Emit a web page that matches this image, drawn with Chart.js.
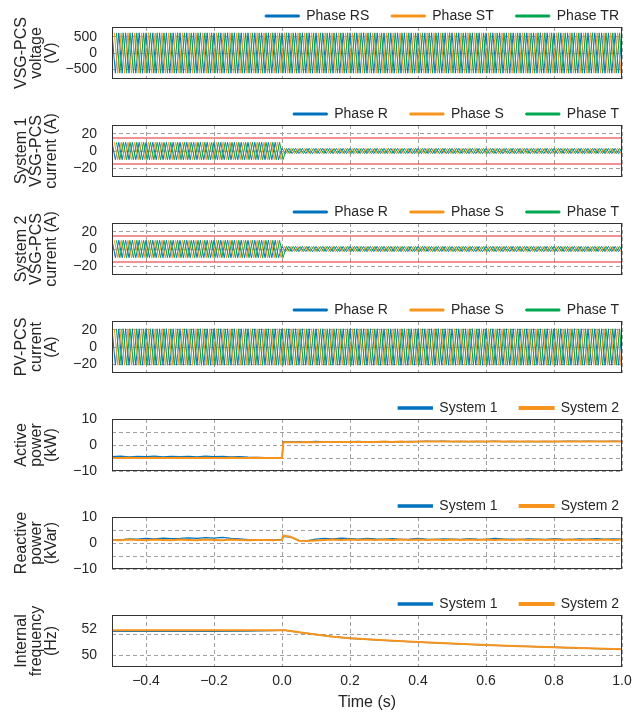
<!DOCTYPE html>
<html><head><meta charset="utf-8">
<script src="https://cdn.jsdelivr.net/npm/chart.js@4.4.1/dist/chart.umd.min.js"></script>
<style>
html,body{margin:0;padding:0;background:#fff;overflow:hidden;width:641px;height:713px;position:relative;}
canvas{position:absolute;left:0;}
</style></head><body>
<script>
// ---------------- DATA ----------------
const xTicks = [-0.4,-0.2,0,0.2,0.4,0.6,0.8,1.0];
const voltTicks = [-500,0,500];
const curTicks = [-20,0,20];
const powTicks = [-10,-5,0,5,10];
const powLabelled = [-10,0,10];
const freqTicks = [50,51.6,52];
const freqLabelled = [50,52];

const phaseLineLabels = ['Phase RS','Phase ST','Phase TR'];
const phaseLabels = ['Phase R','Phase S','Phase T'];
const systemLabels = ['System 1','System 2'];

// peak instants (s) of each phase waveform (alternating + / - peaks)
const tR = [
-0.50,-0.49,-0.48,-0.47,-0.46,-0.45,-0.44,-0.43,-0.42,-0.41,
-0.40,-0.39,-0.38,-0.37,-0.36,-0.35,-0.34,-0.33,-0.32,-0.31,
-0.30,-0.29,-0.28,-0.27,-0.26,-0.25,-0.24,-0.23,-0.22,-0.21,
-0.20,-0.19,-0.18,-0.17,-0.16,-0.15,-0.14,-0.13,-0.12,-0.11,
-0.10,-0.09,-0.08,-0.07,-0.06,-0.05,-0.04,-0.03,-0.02,-0.01,
0.00,0.01,0.02,0.03,0.04,0.05,0.06,0.07,0.08,0.09,
0.10,0.11,0.12,0.13,0.14,0.15,0.16,0.17,0.18,0.19,
0.20,0.21,0.22,0.23,0.24,0.25,0.26,0.27,0.28,0.29,
0.30,0.31,0.32,0.33,0.34,0.35,0.36,0.37,0.38,0.39,
0.40,0.41,0.42,0.43,0.44,0.45,0.46,0.47,0.48,0.49,
0.50,0.51,0.52,0.53,0.54,0.55,0.56,0.57,0.58,0.59,
0.60,0.61,0.62,0.63,0.64,0.65,0.66,0.67,0.68,0.69,
0.70,0.71,0.72,0.73,0.74,0.75,0.76,0.77,0.78,0.79,
0.80,0.81,0.82,0.83,0.84,0.85,0.86,0.87,0.88,0.89,
0.90,0.91,0.92,0.93,0.94,0.95,0.96,0.97,0.98,0.99,
1.00];
const tS = [
-0.493,-0.483,-0.473,-0.463,-0.453,-0.443,-0.433,-0.423,-0.413,-0.403,
-0.393,-0.383,-0.373,-0.363,-0.353,-0.343,-0.333,-0.323,-0.313,-0.303,
-0.293,-0.283,-0.273,-0.263,-0.253,-0.243,-0.233,-0.223,-0.213,-0.203,
-0.193,-0.183,-0.173,-0.163,-0.153,-0.143,-0.133,-0.123,-0.113,-0.103,
-0.093,-0.083,-0.073,-0.063,-0.053,-0.043,-0.033,-0.023,-0.013,-0.003,
0.007,0.017,0.027,0.037,0.047,0.057,0.067,0.077,0.087,0.097,
0.107,0.117,0.127,0.137,0.147,0.157,0.167,0.177,0.187,0.197,
0.207,0.217,0.227,0.237,0.247,0.257,0.267,0.277,0.287,0.297,
0.307,0.317,0.327,0.337,0.347,0.357,0.367,0.377,0.387,0.397,
0.407,0.417,0.427,0.437,0.447,0.457,0.467,0.477,0.487,0.497,
0.507,0.517,0.527,0.537,0.547,0.557,0.567,0.577,0.587,0.597,
0.607,0.617,0.627,0.637,0.647,0.657,0.667,0.677,0.687,0.697,
0.707,0.717,0.727,0.737,0.747,0.757,0.767,0.777,0.787,0.797,
0.807,0.817,0.827,0.837,0.847,0.857,0.867,0.877,0.887,0.897,
0.907,0.917,0.927,0.937,0.947,0.957,0.967,0.977,0.987,0.997,
1.007];
const tT = [
-0.487,-0.477,-0.467,-0.457,-0.447,-0.437,-0.427,-0.417,-0.407,-0.397,
-0.387,-0.377,-0.367,-0.357,-0.347,-0.337,-0.327,-0.317,-0.307,-0.297,
-0.287,-0.277,-0.267,-0.257,-0.247,-0.237,-0.227,-0.217,-0.207,-0.197,
-0.187,-0.177,-0.167,-0.157,-0.147,-0.137,-0.127,-0.117,-0.107,-0.097,
-0.087,-0.077,-0.067,-0.057,-0.047,-0.037,-0.027,-0.017,-0.007,0.003,
0.013,0.023,0.033,0.043,0.053,0.063,0.073,0.083,0.093,0.103,
0.113,0.123,0.133,0.143,0.153,0.163,0.173,0.183,0.193,0.203,
0.213,0.223,0.233,0.243,0.253,0.263,0.273,0.283,0.293,0.303,
0.313,0.323,0.333,0.343,0.353,0.363,0.373,0.383,0.393,0.403,
0.413,0.423,0.433,0.443,0.453,0.463,0.473,0.483,0.493,0.503,
0.513,0.523,0.533,0.543,0.553,0.563,0.573,0.583,0.593,0.603,
0.613,0.623,0.633,0.643,0.653,0.663,0.673,0.683,0.693,0.703,
0.713,0.723,0.733,0.743,0.753,0.763,0.773,0.783,0.793,0.803,
0.813,0.823,0.833,0.843,0.853,0.863,0.873,0.883,0.893,0.903,
0.913,0.923,0.933,0.943,0.953,0.963,0.973,0.983,0.993,1.003,
1.013];

// peak values (V) of the VSG-PCS line voltages
const voltPk = [
620,-620,620,-620,620,-620,620,-620,620,-620,
620,-620,620,-620,620,-620,620,-620,620,-620,
620,-620,620,-620,620,-620,620,-620,620,-620,
620,-620,620,-620,620,-620,620,-620,620,-620,
620,-620,620,-620,620,-620,620,-620,620,-620,
620,-620,620,-620,620,-620,620,-620,620,-620,
620,-620,620,-620,620,-620,620,-620,620,-620,
620,-620,620,-620,620,-620,620,-620,620,-620,
620,-620,620,-620,620,-620,620,-620,620,-620,
620,-620,620,-620,620,-620,620,-620,620,-620,
620,-620,620,-620,620,-620,620,-620,620,-620,
620,-620,620,-620,620,-620,620,-620,620,-620,
620,-620,620,-620,620,-620,620,-620,620,-620,
620,-620,620,-620,620,-620,620,-620,620,-620,
620,-620,620,-620,620,-620,620,-620,620,-620,
620];
// peak values (A) of System 1 VSG-PCS currents
const sys1CurPk = [
10,-10,10,-10,10,-10,10,-10,10,-10,
10,-10,10,-10,10,-10,10,-10,10,-10,
10,-10,10,-10,10,-10,10,-10,10,-10,
10,-10,10,-10,10,-10,10,-10,10,-10,
10,-10,10,-10,10,-10,10,-10,10,-10,
3,-3,3,-3,3,-3,3,-3,3,-3,
3,-3,3,-3,3,-3,3,-3,3,-3,
3,-3,3,-3,3,-3,3,-3,3,-3,
3,-3,3,-3,3,-3,3,-3,3,-3,
3,-3,3,-3,3,-3,3,-3,3,-3,
3,-3,3,-3,3,-3,3,-3,3,-3,
3,-3,3,-3,3,-3,3,-3,3,-3,
3,-3,3,-3,3,-3,3,-3,3,-3,
3,-3,3,-3,3,-3,3,-3,3,-3,
3,-3,3,-3,3,-3,3,-3,3,-3,
3];
// peak values (A) of System 2 VSG-PCS currents
const sys2CurPk = [
10,-10,10,-10,10,-10,10,-10,10,-10,
10,-10,10,-10,10,-10,10,-10,10,-10,
10,-10,10,-10,10,-10,10,-10,10,-10,
10,-10,10,-10,10,-10,10,-10,10,-10,
10,-10,10,-10,10,-10,10,-10,10,-10,
3,-3,3,-3,3,-3,3,-3,3,-3,
3,-3,3,-3,3,-3,3,-3,3,-3,
3,-3,3,-3,3,-3,3,-3,3,-3,
3,-3,3,-3,3,-3,3,-3,3,-3,
3,-3,3,-3,3,-3,3,-3,3,-3,
3,-3,3,-3,3,-3,3,-3,3,-3,
3,-3,3,-3,3,-3,3,-3,3,-3,
3,-3,3,-3,3,-3,3,-3,3,-3,
3,-3,3,-3,3,-3,3,-3,3,-3,
3,-3,3,-3,3,-3,3,-3,3,-3,
3];
// peak values (A) of PV-PCS currents
const pvCurPk = [
21,-21,21,-21,21,-21,21,-21,21,-21,
21,-21,21,-21,21,-21,21,-21,21,-21,
21,-21,21,-21,21,-21,21,-21,21,-21,
21,-21,21,-21,21,-21,21,-21,21,-21,
21,-21,21,-21,21,-21,21,-21,21,-21,
21,-21,21,-21,21,-21,21,-21,21,-21,
21,-21,21,-21,21,-21,21,-21,21,-21,
21,-21,21,-21,21,-21,21,-21,21,-21,
21,-21,21,-21,21,-21,21,-21,21,-21,
21,-21,21,-21,21,-21,21,-21,21,-21,
21,-21,21,-21,21,-21,21,-21,21,-21,
21,-21,21,-21,21,-21,21,-21,21,-21,
21,-21,21,-21,21,-21,21,-21,21,-21,
21,-21,21,-21,21,-21,21,-21,21,-21,
21,-21,21,-21,21,-21,21,-21,21,-21,
21];

// current limit lines (A)
const limitT = [-0.5, 1.0];
const limitHi = [15, 15];
const limitLo = [-15, -15];

// power samples
const pT = [-0.5,-0.475,-0.45,-0.425,-0.4,-0.375,-0.35,-0.325,-0.3,-0.275,-0.25,-0.225,-0.2,-0.175,-0.15,-0.125,-0.1,-0.075,-0.05,-0.025,0,
0.004,
0.025,0.05,0.075,0.1,0.125,0.15,0.175,0.2,0.225,0.25,0.275,0.3,0.325,0.35,0.375,0.4,0.425,0.45,0.475,0.5,
0.525,0.55,0.575,0.6,0.625,0.65,0.675,0.7,0.725,0.75,0.775,0.8,0.825,0.85,0.875,0.9,0.925,0.95,0.975,1.0];
const activeSys1 = [-4.5,-4.3,-4.6,-4.4,-4.5,-4.3,-4.6,-4.4,-4.5,-4.4,-4.6,-4.3,-4.5,-4.4,-4.6,-4.5,-4.7,-4.8,-4.9,-4.9,-4.9,
1.3,
1.2,1.3,1.2,1.4,1.2,1.3,1.2,1.3,1.4,1.2,1.3,1.2,1.3,1.2,1.4,1.3,1.5,1.4,1.5,1.3,
1.4,1.3,1.4,1.3,1.5,1.3,1.4,1.3,1.4,1.3,1.4,1.3,1.4,1.5,1.4,1.5,1.4,1.4,1.5,1.4];
const activeSys2 = [-5.0,-5.0,-4.9,-5.0,-5.0,-4.9,-5.0,-5.0,-4.9,-5.0,-5.0,-4.9,-5.0,-5.0,-4.9,-5.0,-5.0,-4.9,-5.0,-5.0,-5.0,
1.1,
1.1,1.1,1.2,1.1,1.2,1.2,1.2,1.2,1.2,1.2,1.2,1.3,1.2,1.3,1.2,1.3,1.3,1.3,1.3,1.3,
1.3,1.3,1.3,1.3,1.3,1.3,1.3,1.3,1.3,1.3,1.3,1.3,1.3,1.3,1.3,1.3,1.3,1.3,1.3,1.3];
const reactiveSys1 = [1.3,1.2,1.6,1.5,1.8,1.6,1.9,1.7,1.8,2.0,1.8,2.1,1.9,2.2,1.8,1.6,1.3,1.2,1.3,1.2,1.4,
2.6,
2.3,1.0,0.9,1.5,1.8,1.6,1.9,1.7,1.5,1.8,1.6,1.5,1.7,1.4,1.5,1.8,1.5,1.4,1.6,1.5,
1.4,1.7,1.5,1.4,1.8,1.6,1.5,1.4,1.6,1.5,1.4,1.7,1.5,1.4,1.6,1.5,1.7,1.5,1.6,1.5];
const reactiveSys2 = [1.2,1.1,1.3,1.2,1.1,1.3,1.2,1.1,1.3,1.2,1.1,1.3,1.2,1.1,1.3,1.2,1.1,1.2,1.2,1.1,1.2,
2.8,
2.4,0.9,0.8,1.0,1.2,1.3,1.2,1.3,1.2,1.3,1.2,1.3,1.2,1.3,1.2,1.3,1.2,1.3,1.2,1.3,
1.2,1.3,1.2,1.3,1.2,1.3,1.2,1.3,1.2,1.3,1.2,1.3,1.2,1.3,1.2,1.3,1.2,1.3,1.2,1.3];

// internal frequency samples
const fT = [-0.5,-0.4,-0.3,-0.2,-0.1,0,0.01,0.05,0.1,0.15,0.2,0.3,0.4,0.5,0.6,0.7,0.8,0.9,1.0];
const freqSys1 = [51.85,51.85,51.85,51.85,51.86,51.92,51.92,51.77,51.6,51.43,51.31,51.15,51.02,50.9,50.79,50.7,50.62,50.54,50.46];
const freqSys2 = [51.92,51.92,51.92,51.92,51.92,51.92,51.92,51.77,51.6,51.43,51.31,51.15,51.02,50.9,50.79,50.7,50.62,50.54,50.46];

// ---------------- STYLE ----------------
const FONT = '"Liberation Sans",Arial,sans-serif';
const TXT = '#262626', GRID = '#a0a0a0';
const COL = {blue:'#0072BD', orange:'#F7941D', green:'#00A651', red:'#E8262B'};
Chart.defaults.font.family = FONT;

const frame = {
  id: 'frame',
  afterDatasetsDraw(chart) {
    const a = chart.chartArea, c = chart.ctx;
    c.save();
    c.strokeStyle = '#333'; c.lineWidth = 1;
    c.strokeRect(a.left + 0.5, a.top + 0.5, a.right - a.left - 1, a.bottom - a.top - 1);
    c.restore();
  }
};

const minus = s => s.replace('-', '\u2212');
const pts = (t, y) => t.map((v, i) => ({x: v, y: y[i]}));
const noPad = s => { s.paddingTop = 0; s.paddingBottom = 0; s.paddingLeft = 0; s.paddingRight = 0; };

function xScale(show) {
  return {
    type: 'linear', min: -0.5, max: 1.0,
    afterBuildTicks: s => { s.ticks = xTicks.map(v => ({value: v})); },
    afterFit: s => { s.height = show ? 46 : 0; noPad(s); },
    grid: {color: GRID, lineWidth: 1, drawTicks: false},
    border: {display: false, dash: [4, 3]},
    ticks: {display: show, padding: 6, color: TXT, font: {size: 14}, maxRotation: 0, autoSkip: false,
      callback: v => minus(Number(v).toFixed(1))},
    title: {display: show, text: 'Time (s)', color: TXT, font: {size: 16}, padding: {top: 0, bottom: 1}}
  };
}
function yScale(min, max, ticks, labelled, hidden, title) {
  return {
    type: 'linear', position: 'left', min, max,
    afterBuildTicks: s => { s.ticks = ticks.map(v => ({value: v})); },
    afterFit: s => { s.width = 112; noPad(s); },
    grid: {drawTicks: false, color: ctx => (ctx.tick && hidden.includes(ctx.tick.value)) ? 'rgba(0,0,0,0)' : GRID},
    border: {display: false, dash: [4, 3]},
    ticks: {padding: 15, color: TXT, font: {size: 14}, autoSkip: false,
      callback: v => labelled.includes(v) ? minus(String(v)) : ''},
    title: {display: true, text: title, color: TXT, font: {size: 16, lineHeight: 0.95}, padding: {top: 14, bottom: 0}}
  };
}
const yRight = {
  position: 'right', display: true, min: 0, max: 1,
  afterFit: s => { s.width = 19; noPad(s); },
  grid: {display: false, drawTicks: false}, border: {display: false}, ticks: {display: false}
};

function makePanel(top, height, bottomPad, datasets, ys, isLast) {
  const cv = document.createElement('canvas');
  cv.width = 641; cv.height = height; cv.style.top = top + 'px';
  document.body.appendChild(cv);
  new Chart(cv, {
    type: 'line',
    data: {datasets},
    options: {
      responsive: false, animation: false, devicePixelRatio: 1,
      layout: {autoPadding: false, padding: {left: 0, right: 0, top: 0, bottom: bottomPad}},
      elements: {point: {radius: 0}, line: {tension: 0}},
      scales: {x: xScale(isLast), y: ys, yR: yRight},
      plugins: {
        tooltip: {enabled: false},
        legend: {
          display: true, position: 'top', align: 'end', maxHeight: 40,
          labels: {boxWidth: 34, boxHeight: 2, padding: 22, color: TXT, font: {size: 14},
            filter: (item, data) => !data.datasets[item.datasetIndex].isLimit,
            sort: (a, b) => a.datasetIndex - b.datasetIndex}
        }
      }
    },
    plugins: [frame]
  });
}

function phaseSets(labels, pk) {
  const cols = [COL.blue, COL.orange, COL.green];
  const times = [tR, tS, tT];
  return labels.map((lab, i) => ({
    label: lab, data: pts(times[i], pk), borderColor: cols[i], backgroundColor: cols[i],
    borderWidth: 1, order: 2 - i, clip: 0, xAxisID: 'x', yAxisID: 'y'
  }));
}
function limitSets() {
  return [limitHi, limitLo].map(v => ({
    label: 'Current limit', isLimit: true, data: pts(limitT, v), borderColor: COL.red, backgroundColor: COL.red,
    borderWidth: 1.2, order: -1, clip: 0, xAxisID: 'x', yAxisID: 'y'
  }));
}
function systemSets(t, s1, s2) {
  return [
    {label: systemLabels[0], data: pts(t, s1), borderColor: COL.blue, backgroundColor: COL.blue, borderWidth: 1.3, order: 1, clip: 0, xAxisID: 'x', yAxisID: 'y'},
    {label: systemLabels[1], data: pts(t, s2), borderColor: COL.orange, backgroundColor: COL.orange, borderWidth: 2, order: 0, clip: 0, xAxisID: 'x', yAxisID: 'y'}
  ];
}

const boxTops = [27, 125, 223, 321, 419, 517, 615];
const T = i => boxTops[i] - 40;
const H = 120, PB = 28;  // canvas height and bottom padding (room for titles/labels below the box)

makePanel(T(0), H, PB, phaseSets(phaseLineLabels, voltPk),
  yScale(-800, 800, voltTicks, voltTicks, [], ['VSG-PCS', 'voltage', '(V)']), false);
makePanel(T(1), H, PB, phaseSets(phaseLabels, sys1CurPk).concat(limitSets()),
  yScale(-30, 30, curTicks, curTicks, [], ['System 1', 'VSG-PCS', 'current (A)']), false);
makePanel(T(2), H, PB, phaseSets(phaseLabels, sys2CurPk).concat(limitSets()),
  yScale(-30, 30, curTicks, curTicks, [], ['System 2', 'VSG-PCS', 'current (A)']), false);
makePanel(T(3), H, PB, phaseSets(phaseLabels, pvCurPk),
  yScale(-30, 30, curTicks, curTicks, [], ['PV-PCS', 'current', '(A)']), false);
makePanel(T(4), H, PB, systemSets(pT, activeSys1, activeSys2),
  yScale(-10, 10, powTicks, powLabelled, [], ['Active', 'power', '(kW)']), false);
makePanel(T(5), H, PB, systemSets(pT, reactiveSys1, reactiveSys2),
  yScale(-10, 10, powTicks, powLabelled, [], ['Reactive', 'power', '(kVar)']), false);
makePanel(T(6), 713 - T(6), 0, systemSets(fT, freqSys1, freqSys2),
  yScale(49.1, 53.1, freqTicks, freqLabelled, [52], ['Internal', 'frequency', '(Hz)']), true);
</script>
</body></html>
